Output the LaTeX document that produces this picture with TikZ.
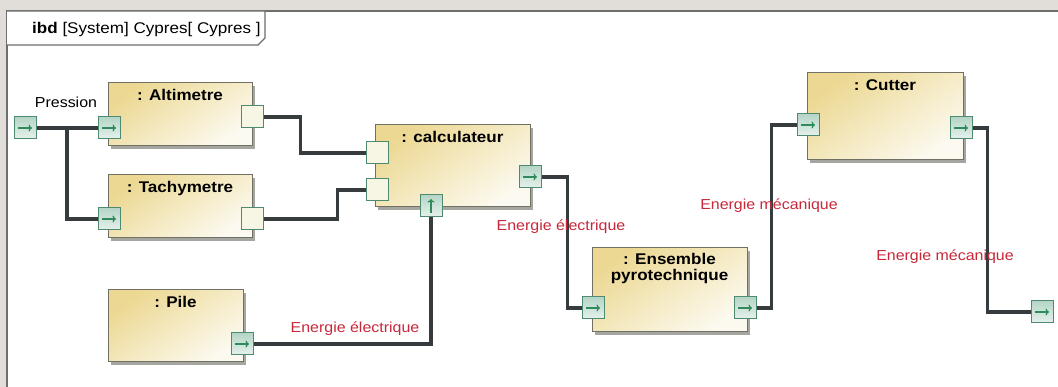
\documentclass[tikz,border=0pt]{standalone}
\usepackage{fontspec}
\setmainfont{Liberation Sans}[FakeStretch=1.1]
\usetikzlibrary{arrows.meta,shadows}

\definecolor{bggray}{HTML}{E1DEDA}
\definecolor{framegray}{HTML}{6E6E6E}
\definecolor{boxtop}{HTML}{ECD892}
\definecolor{boxbot}{HTML}{FCFAF0}
\definecolor{boxline}{HTML}{707064}
\definecolor{shadowgray}{HTML}{A6A6A0}
\definecolor{porttop}{HTML}{B5D5C7}
\definecolor{portbot}{HTML}{E6F2EC}
\definecolor{portline}{HTML}{4E8A70}
\definecolor{portarrow}{HTML}{2F8A5C}
\definecolor{openfill}{HTML}{F7F6E4}
\definecolor{wiregray}{HTML}{363B3D}
\definecolor{flowred}{HTML}{C8283A}

\begin{document}
\begin{tikzpicture}[x=1pt,y=1pt]
\tikzstyle{block}=[draw=boxline, line width=1pt, minimum width=144, minimum height=63,
  top color=boxtop, bottom color=boxbot, shading angle=35,
  drop shadow={shadow xshift=3pt, shadow yshift=-3pt, fill=shadowgray, opacity=1}]
\tikzstyle{btitle}=[anchor=north, inner sep=6.5pt, align=center, font=\fontsize{15.5}{17}\selectfont\bfseries]
\tikzstyle{port}=[draw=portline, line width=1pt, minimum size=22, inner sep=0pt]
\tikzstyle{inport}=[port, top color=porttop, bottom color=portbot,
  path picture={\draw[portarrow, line width=1.2pt, -{To[length=3.5pt,width=7pt]}]
    ([xshift=-7pt]path picture bounding box.center) -- ([xshift=7pt]path picture bounding box.center);}]
\tikzstyle{upport}=[port, top color=porttop, bottom color=portbot,
  path picture={\draw[portarrow, line width=1.2pt, -{To[length=3.5pt,width=7pt]}]
    ([yshift=-7pt]path picture bounding box.center) -- ([yshift=7pt]path picture bounding box.center);}]
\tikzstyle{openport}=[port, fill=openfill]
\tikzstyle{wire}=[draw=wiregray, line width=3.2pt, line join=miter]
\tikzstyle{flow}=[text=flowred, inner sep=1pt, font=\fontsize{14.5}{16}\selectfont]
\useasboundingbox (0,0) rectangle (1058,-387);
\fill[bggray] (0,0) rectangle (1058,-387);
\fill[white] (7,-11) rectangle (1070,-400);
\draw[framegray, line width=1.6pt] (7,-400) -- (7,-11) -- (1070,-11);
\draw[framegray, line width=1.2pt, fill=white] (7,-11) -- (265,-11) -- (265,-38) -- (258,-45) -- (7,-45);
\node[anchor=west, inner sep=0pt, font=\fontsize{15.5}{17}\selectfont] (hdr) at (32,-29)
  {\textbf{ibd} [System] Cypres[ Cypres ]};

\node[block] (alt) at (180,-114.5) {};
\node[btitle] at (alt.north) {: Altimetre};
\node[block] (tach) at (180,-206.5) {};
\node[btitle] at (tach.north) {: Tachymetre};
\node[block, minimum width=135, minimum height=72] (pile) at (175.5,-326) {};
\node[btitle] at (pile.north) {: Pile};
\node[block, minimum width=155, minimum height=82] (calc) at (452.5,-166) {};
\node[btitle] at (calc.north) {: calculateur};
\node[block, minimum width=155, minimum height=84] (ens) at (669.5,-290) {};
\node[btitle, inner sep=5.5pt, font=\fontsize{15.5}{16.5}\selectfont\bfseries] at (ens.north) {: Ensemble\\pyrotechnique};
\node[block, minimum width=156, minimum height=87] (cut) at (885,-116.5) {};
\node[btitle] at (cut.north) {: Cutter};

\node[inport] (sysIn) at (25,-128) {};
\node[inport] (altIn) at (109,-128) {};
\node[openport] (altOut) at (252,-117) {};
\node[inport] (tachIn) at (109,-219) {};
\node[openport] (tachOut) at (252,-219) {};
\node[inport] (pileOut) at (242,-344) {};
\node[openport] (calcIn1) at (377,-153) {};
\node[openport] (calcIn2) at (377,-190) {};
\node[inport] (calcOut) at (530,-177) {};
\node[upport] (calcPwr) at (431,-206) {};
\node[inport] (ensIn) at (593,-308) {};
\node[inport] (ensOut) at (745,-308) {};
\node[inport] (cutIn) at (808,-125) {};
\node[inport] (cutOut) at (961,-128) {};
\node[inport] (sysOut) at (1042,-312) {};

\coordinate (split) at (67,-128);
\draw[wire] (sysIn.east) -- (split) -- (altIn.west);
\draw[wire] (split) |- (tachIn.west);
\draw[wire] (altOut.east) -- ++(37,0) |- (calcIn1.west);
\draw[wire] (tachOut.east) -- ++(74,0) |- (calcIn2.west);
\draw[wire] (pileOut.east) -| (calcPwr.south);
\draw[wire] (calcOut.east) -- ++(26,0) |- (ensIn.west);
\draw[wire] (ensOut.east) -- ++(15,0) |- (cutIn.west);
\draw[wire] (cutOut.east) -- ++(15,0) |- (sysOut.west);

\node[font=\fontsize{14.5}{16}\selectfont] (press) at (66,-102) {Pression};
\node[flow] (lblPile) at (355,-329) {Energie électrique};
\node[flow] (lblCalc) at (561,-227) {Energie électrique};
\node[flow] (lblEns) at (769,-206) {Energie mécanique};
\node[flow] (lblCut) at (945,-257) {Energie mécanique};
\end{tikzpicture}
\end{document}
